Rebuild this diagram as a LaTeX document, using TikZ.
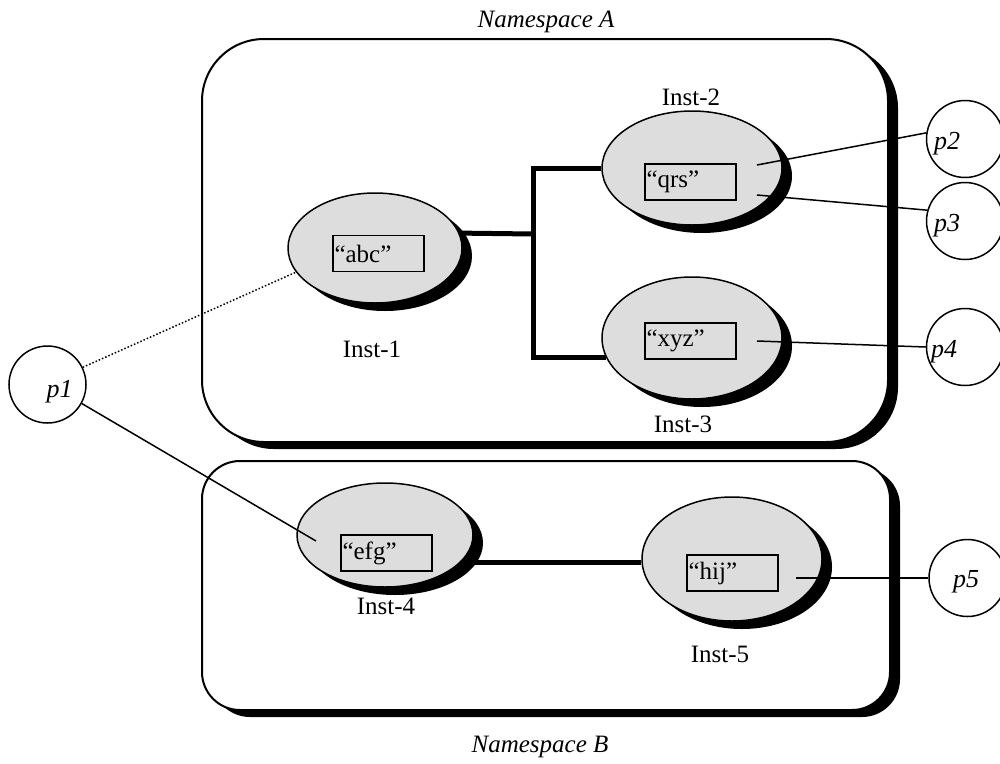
\documentclass[tikz,border=0pt]{standalone}
\usepackage{fontspec}
\setmainfont{Liberation Serif}
\usetikzlibrary{shapes.geometric,shadows}
\definecolor{ellgray}{RGB}{221,221,221}
\begin{document}
\begin{tikzpicture}[x=1pt,y=-1pt,
  font=\fontsize{25}{29}\selectfont,
  nsbox/.style={draw, line width=2pt, fill=white, rectangle, rounded corners=#1, inner sep=0pt,
    drop shadow={shadow xshift=10pt, shadow yshift=-7pt, fill=black, opacity=1}},
  ell/.style={ellipse, draw, line width=1.5pt, fill=ellgray, inner sep=0pt,
    drop shadow={shadow xshift=10pt, shadow yshift=-8pt, fill=black, opacity=1}},
  tbox/.style={draw, line width=1.5pt, rectangle, text width=88pt, inner xsep=1.5pt,
    inner ysep=0pt, minimum height=36pt, align=left},
  pcirc/.style={circle, draw, line width=1.5pt, fill=white, minimum size=77pt, inner sep=0pt},
  lbl/.style={anchor=base, inner sep=0pt},
  plbl/.style={anchor=base, inner sep=0pt, font=\fontsize{26}{30}\selectfont\itshape},
  thickline/.style={line width=5pt},
  thinline/.style={line width=1.5pt},
  dotline/.style={line width=1.5pt, dotted}]
\useasboundingbox (0,0) rectangle (1000,763);

% namespace boxes
\node[nsbox=62pt, minimum width=686pt, minimum height=403pt] (nsA) at (545,240.5) {};
\node[nsbox=38pt, minimum width=688pt, minimum height=249pt] (nsB) at (546,585.5) {};
\node[lbl, font=\fontsize{25}{29}\selectfont\itshape] (nsAl) at (546,27) {Namespace A};
\node[lbl, font=\fontsize{25}{29}\selectfont\itshape] (nsBl) at (540,752) {Namespace B};

% instances
\node[ell, minimum width=174pt, minimum height=110pt] (inst1) at (375,248) {};
\node[ell, minimum width=180pt, minimum height=114pt] (inst2) at (692,168) {};
\node[ell, minimum width=180pt, minimum height=122pt] (inst3) at (692,338) {};
\node[ell, minimum width=176pt, minimum height=104pt] (inst4) at (385,535) {};
\node[ell, minimum width=180pt, minimum height=124pt] (inst5) at (732,559) {};

\node[tbox] (abc) at (378.5,253.5) {“abc”};
\node[tbox] (qrs) at (690.5,182) {“qrs”};
\node[tbox] (xyz) at (690.5,341) {“xyz”};
\node[tbox] (efg) at (386.5,553) {“efg”};
\node[tbox] (hij) at (732.5,573) {“hij”};

\node[lbl] (l1) at (372,357) {Inst-1};
\node[lbl] (l2) at (691,105) {Inst-2};
\node[lbl] (l3) at (683,432) {Inst-3};
\node[lbl] (l4) at (386,614) {Inst-4};
\node[lbl] (l5) at (720,662) {Inst-5};

% tree connectors
\coordinate (tA) at (533,168);
\coordinate (tM) at (533,234);
\coordinate (tB) at (tA |- inst3.193);
\draw[thickline] (inst1.10) -- (tM);
\draw[thickline] (inst2.west) -- (tA) -- (tB) -- (inst3.193);
\draw[thickline] (inst4.340) -- (inst4.340 -| inst5.west);

% p circles
\node[pcirc] (p1) at (47.5,384.5) {};
\node[pcirc] (p2) at (965,139) {};
\node[pcirc] (p3) at (965,221) {};
\node[pcirc] (p4) at (965,347) {};
\node[pcirc] (p5) at (967.5,578) {};
\node[plbl] (p1t) at (59.5,397) {p1};
\node[plbl] (p2t) at (947,149) {p2};
\node[plbl] (p3t) at (947,231) {p3};
\node[plbl] (p4t) at (944,357) {p4};
\node[plbl] (p5t) at (966,587) {p5};

% inner end points
\coordinate (e4) at (316,541);
\coordinate (q2) at (757,165);
\coordinate (q3) at (757,195);
\coordinate (x4) at (757,341);
\coordinate (h5) at (796,578);

\draw[dotline] (p1.26) -- (inst1.197);
\draw[thinline] (p1.331) -- (e4);
\draw[thinline] (q2) -- (p2.171);
\draw[thinline] (q3) -- (p3.164);
\draw[thinline] (x4) -- (p4.west);
\draw[thinline] (h5) -- (p5.west);
\end{tikzpicture}
\end{document}
